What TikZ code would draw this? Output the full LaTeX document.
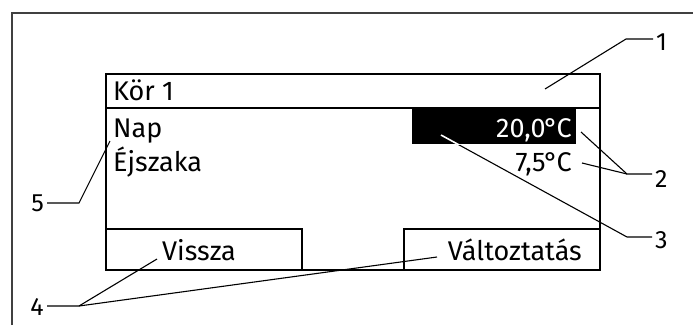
\documentclass[tikz,border=0pt]{standalone}
\usepackage{fontspec}
\setmainfont{Fira Sans}
\newcommand{\degc}{\kern-1.5pt°\kern-1.5pt C}
\begin{document}
\begin{tikzpicture}[x=1pt,y=-1pt,
  frame/.style={draw=black!75, line width=1.3pt},
  box/.style={draw=black, line width=1.6pt, inner sep=0pt, anchor=north west},
  lead/.style={draw=black, line width=1.1pt},
  disp/.style={font=\fontsize{27}{30}\selectfont, inner sep=0pt},
  num/.style={font=\fontsize{25}{28}\selectfont, inner xsep=3pt, inner ysep=0pt}]
\useasboundingbox (0,0) rectangle (693,325);
% outer frame
\draw[frame] (12,325) -- (12,13) -- (693,13);
% screen
\node[box, minimum width=494pt, minimum height=196pt] (screen) at (105,73) {};
\coordinate (hdl) at (105,108);
\coordinate (hdr) at (599,108);
\draw[draw=black, line width=1.8pt] (hdl) -- (hdr);
\node[box, minimum width=196pt, minimum height=41pt] (btnl) at (105,228) {};
\node[box, minimum width=196pt, minimum height=41pt] (btnr) at (403,228) {};
\node[fill=black, anchor=north west, inner sep=0pt, minimum width=164pt, minimum height=36pt] (hl) at (412,108) {};
% texts
\node[disp, anchor=base west] (kor) at (113,100) {Kör 1};
\node[disp, anchor=base west] (nap) at (113,137) {Nap};
\node[disp, anchor=base west] (ejs) at (113,171) {Éjszaka};
\node[disp, anchor=base east, text=white] (t20) at (572,137) {20,0\degc};
\node[disp, anchor=base east] (t75) at (572,171) {7,5\degc};
\node[disp, anchor=base west] (vis) at (162,260) {Vissza};
\node[disp, anchor=base east] (val) at (582,260) {Változtatás};
% callout numbers
\node[num, anchor=base west] (n1) at (653,50) {1};
\node[num, anchor=base west] (n2) at (652,187) {2};
\node[num, anchor=base west] (n3) at (652,248) {3};
\node[num, anchor=base east] (n4) at (47,315) {4};
\node[num, anchor=base east] (n5) at (47,211) {5};
% leader coordinates
\coordinate (b1) at (626,39);  \coordinate (e1) at (545,89);
\coordinate (b2) at (627,174); \coordinate (e2a) at (581,132); \coordinate (e2b) at (582,163);
\coordinate (b3) at (627,237); \coordinate (e3) at (441,135);
\coordinate (b4) at (79,306);  \coordinate (e4a) at (157,259); \coordinate (e4b) at (437,257);
\coordinate (b5) at (79,203);  \coordinate (e5) at (110,141);
% leaders
\draw[lead] (e1) -- (b1) -- (b1 -| n1.west);
\draw[lead] (e2a) -- (b2) -- (b2 -| n2.west);
\draw[lead] (e2b) -- (b2);
\draw[lead] (e3) -- (b3) -- (b3 -| n3.west);
\begin{scope}
  \clip (hl.south west) rectangle (hl.north east);
  \draw[white, line width=1.6pt] (e3) -- (b3);
\end{scope}
\draw[lead] (e4a) -- (b4) -- (b4 -| n4.east);
\draw[lead] (e4b) -- (b4);
\draw[lead] (e5) -- (b5) -- (b5 -| n5.east);
\end{tikzpicture}
\end{document}
